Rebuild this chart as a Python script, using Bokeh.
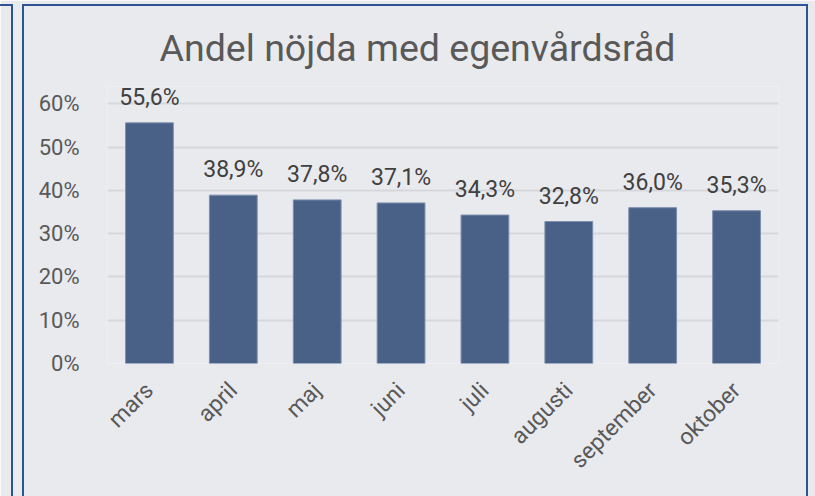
import math
from bokeh.plotting import figure
from bokeh.models import (ColumnDataSource, FactorRange, Range1d, FixedTicker,
                          PrintfTickFormatter, LabelSet, InlineStyleSheet)
from bokeh.core.properties import value
from bokeh.embed import file_html
from bokeh.resources import INLINE

months = ["mars", "april", "maj", "juni", "juli", "augusti", "september", "oktober"]
values = [55.6, 38.9, 37.8, 37.1, 34.3, 32.8, 36.0, 35.3]
y_ticks = [0, 10, 20, 30, 40, 50, 60]
title_text = "Andel nöjda med egenvårdsråd"

labels = [f"{v:.1f}".replace(".", ",") + "%" for v in values]
src = ColumnDataSource(dict(x=months, y=values, lab=labels))

BG = "#E9EAEE"
FONT = "Roboto"
BORDER = "#2F5496"

css = f"""
:host {{ position: relative; overflow: visible; }}
:host::before {{ content: ""; position: absolute; left: -20px; top: 4px; width: 33px;
  height: 600px; border: 2px solid {BORDER}; box-sizing: border-box;
  pointer-events: none; z-index: 10; }}
:host::after {{ content: ""; position: absolute; left: 22px; top: 4px; width: 786px;
  height: 600px; border: 2px solid {BORDER}; box-sizing: border-box;
  pointer-events: none; z-index: 10; }}
"""

p = figure(width=815, height=496, x_range=FactorRange(*months, range_padding=0),
           y_range=Range1d(0, 64), output_backend="svg", toolbar_location=None,
           min_border_left=107, min_border_right=37, min_border_top=86,
           min_border_bottom=133, background_fill_color=BG, border_fill_color=BG,
           outline_line_color=None, title=title_text,
           stylesheets=[InlineStyleSheet(css=css)])

p.title.text_font = FONT
p.title.text_font_size = "37.5px"
p.title.text_font_style = "normal"
p.title.text_color = "#595959"
p.title.align = "left"
p.title.offset = 52
p.title.standoff = 34

p.vbar(x="x", top="y", width=0.57, source=src, fill_color="#4A6187",
       line_color="#7D8FAF", line_width=1)

p.add_layout(LabelSet(x="x", y="y", text="lab", source=src, text_align="center",
                      text_baseline="bottom", y_offset=12, text_font_size="23px",
                      text_font=value(FONT), text_color="#404040"))

p.xgrid.grid_line_color = None
p.ygrid.grid_line_color = "#D6D7DA"
p.ygrid.grid_line_width = 2
p.ygrid.ticker = FixedTicker(ticks=y_ticks)

p.yaxis.ticker = FixedTicker(ticks=y_ticks)
p.yaxis.formatter = PrintfTickFormatter(format="%d%%")
for ax in (p.xaxis[0], p.yaxis[0]):
    ax.axis_line_color = None
    ax.major_tick_line_color = None
    ax.minor_tick_line_color = None
    ax.major_label_text_font = FONT
    ax.major_label_text_color = "#595959"
p.yaxis.major_label_text_font_size = "22px"
p.xaxis.major_label_text_font_size = "23px"
p.yaxis.major_label_standoff = 22
p.xaxis.major_label_standoff = 17
p.xaxis.major_label_orientation = math.pi / 4

open("out.html", "w").write(file_html(p, INLINE))
